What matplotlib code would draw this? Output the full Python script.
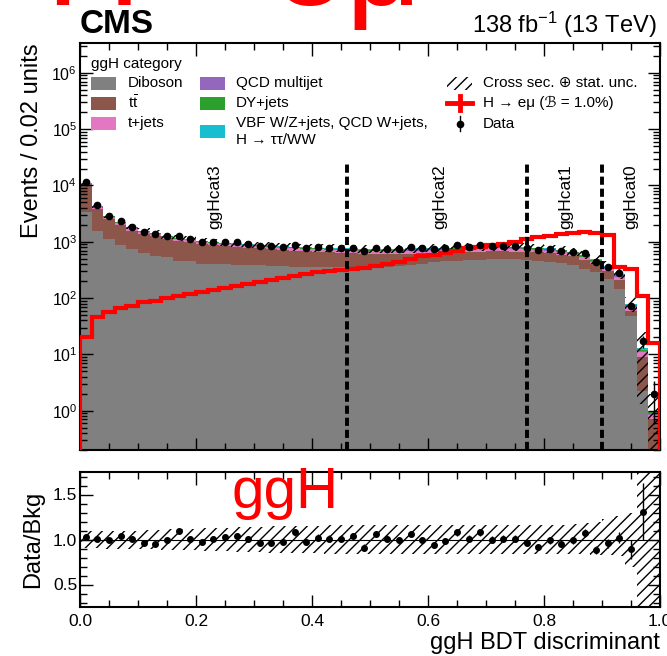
import numpy as np
import matplotlib
matplotlib.use("Agg")
import matplotlib.pyplot as plt
from matplotlib.patches import Rectangle
from matplotlib.ticker import MultipleLocator, LogLocator, FormatStrFormatter

plt.rcParams['font.family'] = ['Liberation Sans', 'DejaVu Sans']
plt.rcParams['mathtext.fontset'] = 'custom'
plt.rcParams['mathtext.rm'] = 'Liberation Sans'
plt.rcParams['mathtext.it'] = 'Liberation Sans:italic'
plt.rcParams['mathtext.bf'] = 'Liberation Sans:bold'
plt.rcParams['hatch.linewidth'] = 1.0

# ---- data (50 bins of 0.02 in the BDT score) ----
bin_edges = np.round(np.linspace(0.0, 1.0, 51), 2)

diboson = [3400, 1580, 1130, 890, 750, 630, 560, 540, 460, 450,
           400, 400, 395, 390, 385, 380, 370, 365, 360, 360,
           355, 350, 350, 340, 345, 350, 360, 370, 390, 410,
           430, 450, 460, 470, 480, 490, 500, 490, 470, 450,
           440, 420, 380, 330, 290, 220, 145, 48, 2.2, 0.05]
ttbar = [6200, 2320, 1440, 1060, 830, 750, 700, 590, 590, 550,
         520, 480, 455, 430, 405, 380, 370, 355, 340, 320,
         305, 300, 290, 280, 265, 250, 240, 230, 220, 210,
         200, 190, 190, 190, 190, 190, 180, 180, 190, 200,
         180, 170, 170, 150, 110, 80, 65, 11, 6.8, 0.65]
tjets = [800, 290, 190, 170, 150, 110, 95, 90, 72, 60,
         66, 66, 66, 66, 66, 66, 66, 66, 66, 66,
         70, 70, 70, 75, 75, 78, 78, 80, 80, 80,
         80, 80, 80, 80, 80, 80, 80, 80, 78, 75,
         72, 68, 62, 55, 45, 34, 28, 10, 2, 0.15]
qcd = [150, 50, 33, 30, 27, 20, 17, 16, 13, 11,
       12, 12, 12, 12, 12, 12, 12, 12, 12, 12,
       12, 12, 12, 13, 13, 13, 13, 14, 14, 14,
       14, 14, 14, 14, 14, 14, 14, 14, 14, 13,
       13, 12, 11, 10, 8, 6, 5, 2, 0.4, 0.03]
dyjets = [250, 90, 60, 55, 50, 38, 33, 31, 26, 22,
          24, 24, 24, 24, 24, 24, 24, 24, 24, 24,
          27, 27, 27, 30, 30, 31, 31, 32, 32, 32,
          32, 32, 32, 32, 32, 32, 32, 32, 33, 31,
          33, 31, 30, 28, 24, 19, 16, 5, 0.8, 0.06]
other = [200, 70, 47, 45, 43, 32, 25, 23, 19, 17,
         18, 18, 18, 18, 18, 18, 18, 18, 18, 18,
         21, 21, 21, 22, 22, 23, 23, 24, 24, 24,
         24, 24, 24, 24, 24, 24, 24, 24, 25, 21,
         22, 19, 17, 17, 13, 11, 11, 4, 0.8, 0.06]

signal = [20, 46, 56, 66, 72, 85, 89, 100, 109, 118,
          128, 138, 152, 163, 180, 195, 210, 228, 248, 268,
          285, 300, 315, 330, 345, 370, 405, 445, 500, 550,
          590, 630, 680, 760, 810, 860, 920, 1000, 1100, 1200,
          1290, 1380, 1450, 1490, 1460, 1300, 360, 330, 110, 16]

# data / background
ratio = [1.03, 1.01, 0.99, 1.04, 1.01, 0.96, 0.95, 0.99, 1.09, 1.01,
         0.97, 1.01, 1.03, 1.04, 1.01, 0.96, 0.96, 0.97, 1.08, 0.97,
         1.02, 1.01, 1.01, 1.04, 0.91, 1.06, 1.01, 0.99, 1.06, 0.99,
         0.94, 0.98, 1.08, 1.01, 1.08, 1.00, 1.01, 1.01, 0.96, 0.92,
         0.99, 0.95, 0.99, 1.07, 0.88, 0.96, 1.02, 0.89, 1.31, 2.00]

# relative syst+stat uncertainty (up / down)
unc_up = [0.09, 0.09, 0.10, 0.10, 0.10, 0.11, 0.11, 0.12, 0.12, 0.12,
          0.13, 0.13, 0.13, 0.14, 0.14, 0.14, 0.15, 0.15, 0.15, 0.15,
          0.15, 0.16, 0.16, 0.16, 0.16, 0.16, 0.16, 0.16, 0.16, 0.16,
          0.16, 0.16, 0.16, 0.16, 0.16, 0.16, 0.16, 0.16, 0.16, 0.16,
          0.16, 0.16, 0.17, 0.18, 0.20, 0.23, 0.26, 0.30, 0.90, 1.00]
unc_dn = [0.09, 0.09, 0.10, 0.10, 0.10, 0.11, 0.11, 0.12, 0.12, 0.12,
          0.13, 0.13, 0.13, 0.14, 0.14, 0.14, 0.15, 0.15, 0.15, 0.15,
          0.15, 0.16, 0.16, 0.16, 0.16, 0.16, 0.16, 0.16, 0.16, 0.16,
          0.16, 0.16, 0.16, 0.16, 0.16, 0.16, 0.16, 0.16, 0.16, 0.16,
          0.16, 0.16, 0.16, 0.16, 0.17, 0.17, 0.18, 0.30, 0.90, 1.00]

cat_bounds = [0.46, 0.77, 0.90]
cat_names = ['ggHcat3', 'ggHcat2', 'ggHcat1', 'ggHcat0']
cat_label_x = [0.233, 0.62, 0.838, 0.95]

bkg_names = ['Diboson', r'$\mathrm{t\bar{t}}$', 't+jets', 'QCD multijet', 'DY+jets']
bkg_colors = ['#808080', '#8c564b', '#e377c2', '#9467bd', '#2ca02c', '#17becf']

# ---- derived ----
centers = 0.5 * (bin_edges[:-1] + bin_edges[1:])
stack = [diboson, ttbar, tjets, qcd, dyjets, other]
total = np.sum(np.array(stack, dtype=float), axis=0)
ratio = np.array(ratio)
data = total * ratio
data_err = np.sqrt(data)
ratio_err = data_err / total
unc_up = np.array(unc_up)
unc_dn = np.array(unc_dn)

W, H = 667, 656
fig = plt.figure(figsize=(W / 100, H / 100), dpi=100)
ax = fig.add_axes([80 / W, 1 - 450 / H, 580 / W, 407 / H])
rax = fig.add_axes([80 / W, 1 - 607 / H, 580 / W, 135 / H], sharex=ax)

floor = 1e-3
base = np.full(len(centers), floor)
for vals, col in zip(stack, bkg_colors):
    top = base + np.array(vals, dtype=float)
    ax.stairs(top, bin_edges, baseline=base, fill=True, facecolor=col,
              edgecolor='none', lw=0, zorder=1)
    base = top

ax.stairs(total * (1 + unc_up), bin_edges,
          baseline=np.maximum(total * (1 - unc_dn), floor), fill=True,
          facecolor='none', edgecolor='black', hatch='///', lw=0, zorder=2)

ax.stairs(signal, bin_edges, baseline=floor, color='red', lw=3, zorder=4)

ax.errorbar(centers, data, yerr=data_err, fmt='o', color='black', ms=4.5,
            elinewidth=1, capsize=0, zorder=5)

ax.vlines(cat_bounds, 0.2, 2.5e4, colors='black', linestyles=(0, (2.1, 1.0)),
          lw=2.8, zorder=6)
for xl, name in zip(cat_label_x, cat_names):
    ax.text(xl, 2.4e4, name, rotation=90, ha='center', va='top', fontsize=12.5)

ax.set_yscale('log')
ax.set_xlim(0, 1)
ax.set_ylim(0.2, 3.4e6)
ax.yaxis.set_major_locator(LogLocator(base=10, numticks=20))
ax.yaxis.set_minor_locator(LogLocator(base=10, subs=np.arange(2, 10), numticks=20))
ax.tick_params(labelbottom=False, labelsize=11.5, pad=2)
ax.set_ylabel('Events / 0.02 units', fontsize=17, loc='top')
ax.yaxis.set_label_coords(-0.064, 1.0)

# ratio panel
rax.stairs(1 + unc_up, bin_edges, baseline=1 - unc_dn, fill=True,
           facecolor='none', edgecolor='black', hatch='///', lw=0, zorder=1)
rax.axhline(1.0, color='black', lw=0.8, zorder=2)
rax.errorbar(centers[:-1], ratio[:-1], yerr=ratio_err[:-1], fmt='o',
             color='black', ms=4, elinewidth=1, capsize=0, zorder=3)
rax.set_ylim(0.25, 1.75)
rax.yaxis.set_major_locator(MultipleLocator(0.5))
rax.yaxis.set_minor_locator(MultipleLocator(0.1))
rax.yaxis.set_major_formatter(FormatStrFormatter('%.1f'))
rax.xaxis.set_major_locator(MultipleLocator(0.2))
rax.xaxis.set_minor_locator(MultipleLocator(0.05))
rax.xaxis.set_major_formatter(FormatStrFormatter('%.1f'))
rax.tick_params(axis='y', labelsize=12.5, pad=2)
rax.tick_params(axis='x', labelsize=12.5, pad=5)
rax.set_ylabel('Data/Bkg', fontsize=17)
rax.yaxis.set_label_coords(-0.062, 0.5)
rax.set_xlabel('ggH BDT discriminant', fontsize=17, loc='right')
rax.xaxis.set_label_coords(1.0, -0.185)

for a in (ax, rax):
    a.tick_params(which='both', direction='in', top=True, right=True)
    a.tick_params(which='major', length=9, width=1)
    a.tick_params(which='minor', length=5, width=1)
    for s in a.spines.values():
        s.set_linewidth(1.5)


# ---- hand-made legend, positions in pixels of the main panel ----
def fx(px):
    return (px - 80) / 580


def fy(py):
    return (450 - py) / 407


tr = ax.transAxes
ax.text(fx(91), fy(64), 'ggH category', fontsize=11, va='center', transform=tr)
legend_rows = [83, 103, 123]
box_w, box_h = 25 / 580, 13 / 407
for i, (name, col) in enumerate(zip(bkg_names, bkg_colors[:5])):
    bx, tx = (91, 128) if i < 3 else (200, 236)
    row = legend_rows[i % 3]
    ax.add_patch(Rectangle((fx(bx), fy(row + 6.5)), box_w, box_h, transform=tr,
                           facecolor=col, edgecolor='none', zorder=7))
    ax.text(fx(tx), fy(row), name, fontsize=11, va='center', transform=tr)
ax.add_patch(Rectangle((fx(200), fy(131 + 6.5)), box_w, box_h, transform=tr,
                       facecolor=bkg_colors[5], edgecolor='none', zorder=7))
ax.text(fx(236), fy(123), 'VBF W/Z+jets, QCD W+jets,', fontsize=11,
        va='center', transform=tr)
ax.text(fx(236), fy(140), 'H → ττ/WW', fontsize=11, va='center', transform=tr)

ax.add_patch(Rectangle((fx(447), fy(83 + 6.5)), box_w, box_h, transform=tr,
                       facecolor='none', edgecolor='black', hatch='///', lw=0,
                       zorder=7))
ax.text(fx(483), fy(83), 'Cross sec. ⊕ stat. unc.', fontsize=11,
        va='center', transform=tr)
ax.plot([fx(447), fx(472)], [fy(103)] * 2, color='red', lw=3.5,
        transform=tr, zorder=7)
ax.plot([fx(459.5)] * 2, [fy(96), fy(110)], color='red', lw=3.5,
        transform=tr, zorder=7)
ax.text(fx(483), fy(103), 'H → eμ (ℬ = 1.0%)', fontsize=11,
        va='center', transform=tr)
ax.plot([fx(460)] * 2, [fy(116), fy(131)], color='black', lw=1,
        transform=tr, zorder=7)
ax.plot([fx(460)], [fy(123.5)], 'o', color='black', ms=4.5, transform=tr,
        zorder=7)
ax.text(fx(483), fy(123.5), 'Data', fontsize=11, va='center', transform=tr)

# header
fig.text(80 / W, 1 - 33 / H, 'CMS', fontsize=24, fontweight='bold',
         ha='left', va='baseline')
fig.text(657 / W, 1 - 33 / H, r'138 fb$^{-1}$ (13 TeV)', fontsize=17,
         ha='right', va='baseline')

# red overlay annotations
fig.text(45 / W, 1 - 5 / H, 'H→eμ', color='red', fontsize=95, va='baseline')
fig.text(232 / W, 1 - 508 / H, 'ggH', color='red', fontsize=42, va='baseline')

fig.savefig('out.png', dpi=100)
